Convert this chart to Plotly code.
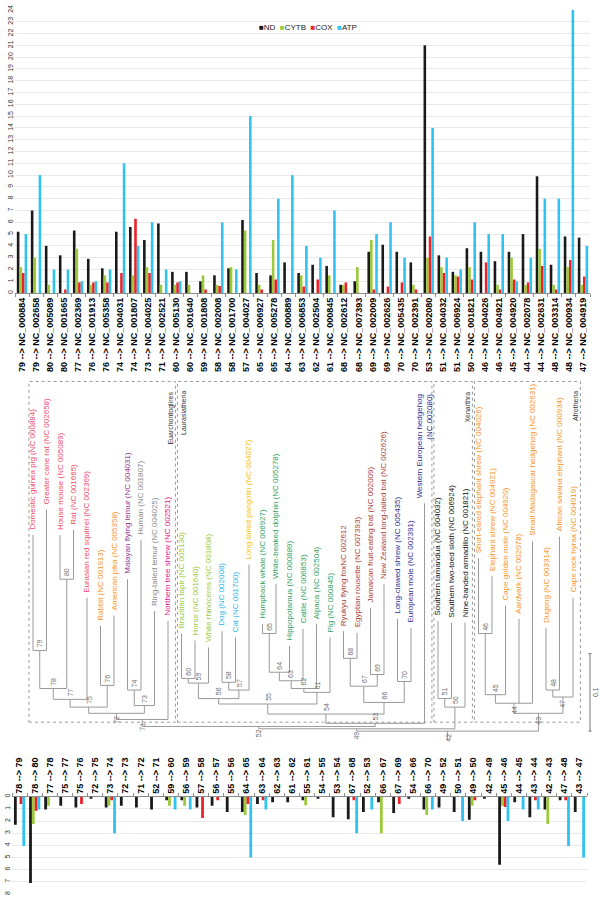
import plotly.graph_objects as go

W, H = 600, 898
FONT = "Liberation Sans, Arial, sans-serif"

# ---------------- terminal branches (top chart) ----------------
top_parent = [79, 79, 80, 80, 77, 76, 76, 74, 74, 73, 71, 60, 60, 59, 58, 58, 57, 65, 65, 64, 63,
              62, 61, 68, 68, 69, 69, 70, 70, 53, 51, 51, 50, 46, 46, 45, 44, 44, 48, 48, 47]
top_accession = ["NC_000884", "NC_002658", "NC_005089", "NC_001665", "NC_002369", "NC_001913",
                 "NC_005358", "NC_004031", "NC_001807", "NC_004025", "NC_002521", "NC_005130",
                 "NC_001640", "NC_001808", "NC_002008", "NC_001700", "NC_004027", "NC_006927",
                 "NC_005278", "NC_000889", "NC_006853", "NC_002504", "NC_000845", "NC_002612",
                 "NC_007393", "NC_002009", "NC_002626", "NC_005435", "NC_002391", "NC_002080",
                 "NC_004032", "NC_006924", "NC_001821", "NC_004026", "NC_004921", "NC_004920",
                 "NC_002078", "NC_002631", "NC_003314", "NC_000934", "NC_004919"]
nd_top = [5.2, 7.0, 4.0, 3.2, 5.3, 2.9, 2.1, 5.2, 5.6, 4.5, 5.9, 1.8, 1.8, 1.0, 1.5, 2.1, 6.2,
          1.7, 1.5, 2.6, 1.7, 2.4, 2.3, 0.7, 1.0, 3.5, 4.1, 3.5, 2.6, 21.0, 3.2, 1.8, 3.8,
          3.5, 2.7, 3.5, 5.0, 9.9, 2.4, 4.8, 4.7]
cytb_top = [2.2, 3.0, 0.7, 0, 3.75, 0.7, 1.5, 0, 1.5, 2.2, 0.7, 0.7, 0.7, 1.5, 0.7, 2.2, 5.3,
            0.7, 4.5, 0, 1.5, 0, 1.5, 0.7, 2.2, 4.5, 0, 0, 0.7, 3.0, 2.2, 1.5, 2.2,
            0, 0.7, 3.0, 0.7, 3.75, 0.7, 2.2, 0.7]
cox_top = [1.7, 0, 0, 0.3, 0.9, 0.9, 0.9, 1.7, 6.3, 1.7, 0, 0.9, 0, 0.3, 0.6, 0, 0,
           0.3, 1.15, 0, 0.55, 1.15, 0, 0.9, 0, 0.3, 0.55, 0.9, 0.3, 4.8, 1.7, 1.4, 1.15,
           2.6, 0.3, 1.15, 0.9, 2.3, 0.3, 2.8, 1.4]
atp_top = [5.0, 10.0, 2.0, 2.0, 1.0, 1.0, 2.0, 11.0, 4.0, 6.0, 2.0, 1.0, 0, 0, 6.0, 2.0, 15.0,
           0, 8.0, 10.0, 4.0, 3.0, 7.0, 0, 0, 5.0, 6.0, 3.0, 0, 14.0, 3.0, 2.0, 6.0,
           5.0, 5.0, 1.0, 3.0, 8.0, 8.0, 24.0, 4.0]
top_ticks = list(range(0, 25))

# ---------------- internal branches (bottom chart) ----------------
bot_from = [78, 78, 77, 75, 75, 72, 73, 72, 71, 52, 59, 56, 57, 56, 55, 64, 63, 62, 61, 55,
            54, 53, 67, 52, 66, 67, 54, 66, 49, 50, 49, 42, 45, 44, 43, 42, 47, 43]
bot_to = [79, 80, 78, 77, 76, 75, 74, 73, 72, 71, 60, 59, 58, 57, 56, 65, 64, 63, 62, 61,
          55, 54, 68, 53, 67, 69, 66, 70, 52, 51, 50, 49, 46, 45, 44, 43, 48, 47]
nd_bot = [2.3, 7.1, 1.05, 0.75, 0.9, 0.15, 0.9, 0.75, 0.9, 1.05, 0.3, 0.3, 0.9, 0.75, 1.25,
          1.25, 0.6, 0.45, 0.45, 0.3, 0.15, 1.7, 1.85, 1.25, 0.45, 1.35, 0.15, 1.05, 0.9,
          1.25, 1.9, 0.15, 5.6, 0.45, 1.7, 1.05, 0.3, 1.25]
cytb_bot = [0, 2.25, 0.75, 0, 0, 0, 0.75, 0, 0, 0, 0.75, 0.75, 0, 0, 0, 1.5, 0, 0, 0, 0.7,
            0, 0, 0, 0, 3.0, 0, 0, 1.5, 0, 0, 0.75, 0, 0.75, 0, 0, 2.25, 0, 0]
cox_bot = [0.6, 1.15, 0, 0, 0.6, 0, 0.3, 0, 0, 0, 0, 0, 1.75, 0.3, 0, 0.6, 0.3, 0, 0, 0,
           0, 0, 0.3, 0, 0, 0.6, 0, 0, 0, 0, 0.3, 0, 0.85, 0, 0.3, 0, 0.3, 0]
atp_bot = [4.05, 1.05, 0, 0, 0, 0, 3.0, 0, 0, 0, 1.05, 1.05, 0, 0, 0, 5.0, 1.05, 0, 0, 0,
           0, 0, 3.0, 1.05, 0, 0, 0, 1.05, 0, 2.0, 0, 0, 2.0, 1.05, 1.05, 0, 4.05, 5.0]
bot_ticks = list(range(0, 9))

series_names = ["ND", "CYTB", "COX", "ATP"]
series_colors = ["#1a1a1a", "#9cc93a", "#ec2229", "#2ec3f1"]

# ---------------- phylogenetic tree ----------------
leaf_names = ["Domestic guinea pig (NC 000884)", "Greater cane rat (NC 002658)",
              "House mouse (NC 005089)", "Rat (NC 001665)", "Eurasian red squirrel (NC 002369)",
              "Rabbit (NC 001913)", "American pika (NC 005358)", "Malayan flying lemur (NC 004031)",
              "Human (NC 001807)", "Ring-tailed lemur (NC 004025)", "Northern tree shrew (NC 002521)",
              "Brazilian tapir (NC 005130)", "Horse (NC 001640)", "White rhinoceros (NC 001808)",
              "Dog (NC 002008)", "Cat (NC 001700)", "Long-tailed pangolin (NC 004027)",
              "Humpback whale (NC 006927)", "White-beaked dolphin (NC 005278)",
              "Hippopotamus (NC 000889)", "Cattle (NC 006853)", "Alpaca (NC 002504)",
              "Pig (NC 000845)", "Ryukyu flying foxNC 002612", "Egyptian rousette (NC 007393)",
              "Jamaican fruit-eating bat (NC 002009)", "New Zealand long-tailed bat (NC 002626)",
              "Long-clawed shrew (NC 005435)", "European mole (NC 002391)",
              "Western European hedgehog<br>(NC 002080)", "Southern tamandua (NC 004032)",
              "Southern two-toed sloth (NC 006924)", "Nine-banded armadillo (NC 001821)",
              "Short-eared elephant shrew (NC 004026)", "Elephant shrew (NC 004921)",
              "Cape golden mole (NC 004920)", "Aardvark (NC 002078)",
              "Small Madagascar hedgehog (NC 002631)", "Dugong (NC 003314)",
              "African savana elephant (NC 000934)", "Cape rock hyrax (NC 004919)"]
leaf_group = (["rodent"] * 5 + ["lago"] * 2 + ["dermo", "primate", "primate", "scand"]
              + ["peris"] * 3 + ["carn"] * 2 + ["phol"] + ["cet"] * 6 + ["bat"] * 4
              + ["eulip"] * 3 + ["xen"] * 3 + ["afro"] * 8)
group_color = {"rodent": "#ef4b6b", "lago": "#f7941d", "dermo": "#93358f", "primate": "#8a8a8a",
               "scand": "#e8118a", "peris": "#9cc93a", "carn": "#2bb5e6", "phol": "#f5c20f",
               "cet": "#2f9e62", "bat": "#a8403a", "eulip": "#2b2e91", "xen": "#111111",
               "afro": "#f7941d"}
# distance from root to each leaf tip
leaf_depth = [0.253, 0.286, 0.253, 0.260, 0.172, 0.136, 0.149, 0.196, 0.247, 0.155, 0.142,
              0.126, 0.117, 0.108, 0.129, 0.121, 0.215, 0.138, 0.190, 0.110, 0.132, 0.138,
              0.121, 0.129, 0.127, 0.159, 0.190, 0.145, 0.133, 0.294, 0.142, 0.140, 0.140,
              0.223, 0.200, 0.162, 0.145, 0.245, 0.133, 0.251, 0.172]
# internal nodes: (id, children, distance from root); "L<i>" = leaf i
tree_nodes = [
    (79, ["L0", "L1"], 0.104), (80, ["L2", "L3"], 0.196), (78, [79, 80], 0.055),
    (77, [78, "L4"], 0.041), (76, ["L5", "L6"], 0.059), (75, [77, 76], 0.031),
    (74, ["L7", "L8"], 0.053), (73, [74, "L9"], 0.033), (72, [75, 73], 0.023),
    (71, [72, "L10"], 0.015),
    (60, ["L11", "L12"], 0.068), (59, [60, "L13"], 0.062), (58, ["L14", "L15"], 0.063),
    (57, [58, "L16"], 0.053), (56, [59, 57], 0.042), (65, ["L17", "L18"], 0.126),
    (64, [65, "L19"], 0.076), (63, [64, "L20"], 0.065), (62, [63, "L21"], 0.055),
    (61, [62, "L22"], 0.050), (55, [56, 61], 0.035), (68, ["L23", "L24"], 0.094),
    (69, ["L25", "L26"], 0.073), (67, [68, 69], 0.058), (70, ["L27", "L28"], 0.064),
    (66, [67, 70], 0.037), (54, [55, 66], 0.022), (53, [54, "L29"], 0.010),
    (52, [71, 53], 0.006),
    (51, ["L30", "L31"], 0.042), (50, [51, "L32"], 0.031), (49, [52, 50], 0.003),
    (46, ["L33", "L34"], 0.126), (45, [46, "L35"], 0.047), (44, [45, "L36", "L37"], 0.036),
    (48, ["L38", "L39"], 0.053), (47, [48, "L40"], 0.044), (43, [44, 47], 0.023),
    (42, [49, 43], 0.0),
]
labels_below = {72, 71, 52, 49, 42, 44, 43, 47}
clade_names = ["Euarchontoglires", "Laurasiatheria", "Xenarthra", "Afrotheria"]
clade_first = [0, 11, 30, 33]
clade_last = [10, 29, 32, 40]
clade_label_side = ["right", "left", "right", "right"]
scale_bar_length = 0.1

# ---------------- build figure ----------------
top_labels = [f"{p} --> {a}" for p, a in zip(top_parent, top_accession)]
bot_labels = [f"{a} --> {b}" for a, b in zip(bot_from, bot_to)]

fig = go.Figure()
for name, color, vals in zip(series_names, series_colors, [nd_top, cytb_top, cox_top, atp_top]):
    fig.add_trace(go.Bar(x=top_labels, y=vals, name=name, marker=dict(color=color, line=dict(width=0)),
                         xaxis="x", yaxis="y", showlegend=False))
for name, color, vals in zip(series_names, series_colors, [nd_bot, cytb_bot, cox_bot, atp_bot]):
    fig.add_trace(go.Bar(x=bot_labels, y=vals, name=name, marker=dict(color=color, line=dict(width=0)),
                         xaxis="x2", yaxis="y2", showlegend=False))

# tree geometry (x = leaf index, y = distance from root)
node_map = {n: (ch, d) for n, ch, d in tree_nodes}
xpos, ypos = {}, {}
for i, d in enumerate(leaf_depth):
    xpos[f"L{i}"] = float(i)
    ypos[f"L{i}"] = d


def place(n):
    if n in xpos:
        return xpos[n]
    ch, d = node_map[n]
    xs = [place(c) for c in ch]
    xpos[n] = (min(xs) + max(xs)) / 2
    ypos[n] = d
    return xpos[n]


for n, _, _ in tree_nodes:
    place(n)

tx, ty = [], []
for n, ch, d in tree_nodes:
    xs = [xpos[c] for c in ch]
    tx += [min(xs), max(xs), None]
    ty += [d, d, None]
    for c in ch:
        tx += [xpos[c], xpos[c], None]
        ty += [ypos[c], d, None]
root = tree_nodes[-1][0]
tx += [xpos[root], xpos[root], None]
ty += [ypos[root], -0.012, None]
fig.add_trace(go.Scatter(x=tx, y=ty, mode="lines", line=dict(color="#9a9a9a", width=1),
                         xaxis="x3", yaxis="y3", hoverinfo="skip", showlegend=False))

# scale bar
sb_x = 41.26
fig.add_trace(go.Scatter(x=[sb_x, sb_x, None, sb_x - 0.12, sb_x + 0.12, None, sb_x - 0.12, sb_x + 0.12],
                         y=[0, scale_bar_length, None, 0, 0, None, scale_bar_length, scale_bar_length],
                         mode="lines", line=dict(color="#8a8a8a", width=1.2),
                         xaxis="x3", yaxis="y3", hoverinfo="skip", showlegend=False))

PX = 780.0  # pixels per unit distance
annotations = []
for i, (name, grp) in enumerate(zip(leaf_names, leaf_group)):
    annotations.append(dict(x=i, y=leaf_depth[i] + 3 / PX, xref="x3", yref="y3", text=name,
                            textangle=-90, xanchor="center", yanchor="bottom", showarrow=False,
                            align="right", font=dict(size=8, color=group_color[grp], family=FONT)))
for n, ch, d in tree_nodes:
    off = -7 / PX if n in labels_below else 7 / PX
    annotations.append(dict(x=xpos[n], y=d + off, xref="x3", yref="y3", text=str(n), textangle=-90,
                            xanchor="center", yanchor="middle", showarrow=False,
                            font=dict(size=7, color="#6e6e6e", family=FONT)))
annotations.append(dict(x=41.68, y=scale_bar_length / 2, xref="x3", yref="y3", text="0.1",
                        textangle=-90, showarrow=False, font=dict(size=7, color="#555", family=FONT)))

shapes = []
box_top, box_bottom = (731 - 379) / PX, (731 - 722) / PX
for nm, f, l, side in zip(clade_names, clade_first, clade_last, clade_label_side):
    x0, x1 = f - 0.3, l + 0.55
    shapes.append(dict(type="rect", xref="x3", yref="y3", x0=x0, x1=x1, y0=box_bottom, y1=box_top,
                       line=dict(color="#9a9a9a", width=1, dash="dot"), fillcolor="rgba(0,0,0,0)"))
    lx = l + 0.2 if side == "right" else f + 0.15
    annotations.append(dict(x=lx, y=box_top - 8 / PX, xref="x3", yref="y3", text=nm, textangle=-90,
                            xanchor="center", yanchor="top", showarrow=False,
                            font=dict(size=7, color="#333", family=FONT)))

legend_html = "  ".join(f'<span style="color:{c}">■</span>{n}' for n, c in zip(series_names, series_colors))
annotations.append(dict(x=257 / W, y=1 - 23 / H, xref="paper", yref="paper", text=legend_html,
                        xanchor="left", yanchor="middle", showarrow=False,
                        font=dict(size=8, color="#222", family=FONT)))

axis_common = dict(fixedrange=True, zeroline=False)
fig.update_layout(
    width=W, height=H, margin=dict(l=0, r=0, t=0, b=0),
    paper_bgcolor="white", plot_bgcolor="rgba(0,0,0,0)",
    barmode="group", bargap=0.26, bargroupgap=0.0,
    font=dict(family=FONT, size=8, color="#000"),
    xaxis=dict(domain=[15 / W, 590 / W], anchor="y", type="category", tickmode="array",
               tickvals=top_labels, ticktext=top_labels, tickangle=-90,
               tickfont=dict(size=9, color="#000", family=FONT, weight="bold"), showline=True,
               linecolor="#8c8c8c", ticks="outside", ticklen=3, tickcolor="#8c8c8c",
               tickson="boundaries", showgrid=False, **axis_common),
    yaxis=dict(domain=[1 - 290 / H, 1 - 5 / H], anchor="x", range=[0, 24], tickmode="array",
               tickvals=top_ticks, tickangle=-90, tickfont=dict(size=7, color="#333", family=FONT),
               showgrid=True, gridcolor="#e9e9e9", showline=False, ticks="", **axis_common),
    xaxis2=dict(domain=[12 / W, 587 / W], anchor="y2", type="category", side="top", tickmode="array",
                tickvals=bot_labels, ticktext=bot_labels, tickangle=-90,
                tickfont=dict(size=9, color="#000", family=FONT, weight="bold"), showline=True,
                linecolor="#8c8c8c", ticks="outside", ticklen=3, tickcolor="#8c8c8c",
                tickson="boundaries", showgrid=False, **axis_common),
    yaxis2=dict(domain=[1 - 895 / H, 1 - 797 / H], anchor="x2", range=[8, 0], tickmode="array",
                tickvals=bot_ticks, tickangle=-90, tickfont=dict(size=7, color="#333", family=FONT),
                showgrid=True, gridcolor="#e9e9e9", showline=False, ticks="", **axis_common),
    xaxis3=dict(domain=[0, 1], anchor="y3", range=[-33 / 13.5, (W - 33) / 13.5], visible=False,
                **axis_common),
    yaxis3=dict(domain=[0, 1], anchor="x3", range=[(731 - H) / PX, 731 / PX], visible=False,
                **axis_common),
    annotations=annotations, shapes=shapes,
)

fig.write_html("out.html", config={"displayModeBar": False},
               post_script="document.body.style.margin='0';document.body.style.overflow='hidden';")
